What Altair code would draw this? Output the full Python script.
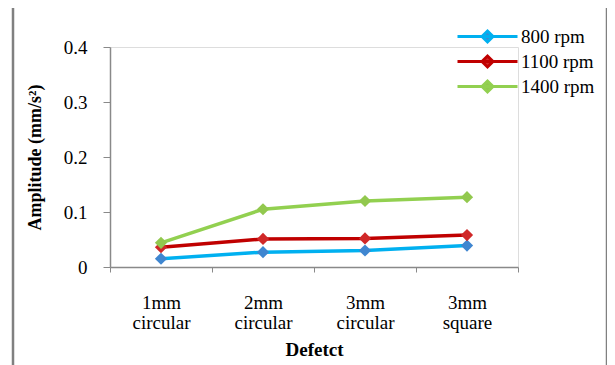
import altair as alt
import pandas as pd

defects = ["1mm circular", "2mm circular", "3mm circular", "3mm square"]
series = ["800 rpm", "1100 rpm", "1400 rpm"]
v800 = [0.015, 0.027, 0.030, 0.039]
v1100 = [0.036, 0.051, 0.052, 0.058]
v1400 = [0.044, 0.105, 0.120, 0.127]

line_colors = ["#00B0F0", "#C00000", "#92D050"]
marker_colors = ["#3F86D0", "#D02828", "#92C84E"]

rows = []
for s, vals in zip(series, [v800, v1100, v1400]):
    for d, v in zip(defects, vals):
        rows.append({"Defect": d, "Series": s, "Amplitude": v})
df = pd.DataFrame(rows)

FONT = "Liberation Serif"

x = alt.X("Defect:N", sort=defects, title="Defetct",
          scale=alt.Scale(paddingInner=0, paddingOuter=0),
          axis=alt.Axis(labelAngle=0, labelExpr="split(datum.label, ' ')",
                        tickBand="extent", tickSize=5, labelPadding=21,
                        labelFontSize=19, labelLineHeight=20, titleFontSize=19,
                        titleFontWeight="bold", titlePadding=8,
                        domainColor="#898989", tickColor="#898989", domainWidth=1.5))
y = alt.Y("Amplitude:Q", title="Amplitude (mm/s²)",
          scale=alt.Scale(domain=[0, 0.4], nice=False),
          axis=alt.Axis(values=[0, 0.1, 0.2, 0.3, 0.4], labelExpr="datum.value == 0 ? '0' : format(datum.value, '.1f')",
                        grid=False, tickSize=7, labelPadding=16, labelFontSize=19,
                        titleFontSize=18, titleFontWeight="bold", titlePadding=19,
                        domainColor="#898989", tickColor="#898989", domainWidth=1.5))

legend = alt.Legend(title=None, orient="none", legendX=336, legendY=-22,
                    symbolType="M-3,0H3M0,-0.55L0.55,0L0,0.55L-0.55,0Z",
                    symbolSize=400, symbolStrokeWidth=3, labelFontSize=19,
                    rowPadding=2, labelOffset=22, symbolOffset=30)

lines = alt.Chart(df).mark_line(strokeWidth=3.5).encode(
    x=x, y=y,
    color=alt.Color("Series:N", sort=series,
                    scale=alt.Scale(domain=series, range=line_colors), legend=legend),
)
points = alt.Chart(df).mark_point(shape="diamond", size=150, filled=True, opacity=1,
                                  strokeWidth=1).encode(
    x=x, y=y,
    fill=alt.Fill("Series:N", scale=alt.Scale(domain=series, range=marker_colors), legend=None),
)

border = alt.Chart(pd.DataFrame({"a": [0]})).mark_rect(
    fill=None, stroke="#808080", strokeWidth=2.5).encode(
    x=alt.value(-97), x2=alt.value(497), y=alt.value(-41), y2=alt.value(400))

label_a = alt.Chart(pd.DataFrame({"t": ["(a)"]})).mark_text(
    font=FONT, fontSize=17, align="left", baseline="middle").encode(
    text="t:N", x=alt.value(-82), y=alt.value(-52))

chart = alt.layer(border, label_a, lines, points).properties(
    width=408, height=220,
    autosize=alt.AutoSizeParams(type="none"),
    padding={"left": 102, "top": 39, "right": 89, "bottom": 110},
).configure_view(stroke=None).configure(
    font=FONT
).configure_axis(labelFont=FONT, titleFont=FONT, labelColor="#000", titleColor="#000"
).configure_legend(labelFont=FONT, labelColor="#000")

chart.save("out.html", embed_options={"renderer": "svg", "actions": False})
